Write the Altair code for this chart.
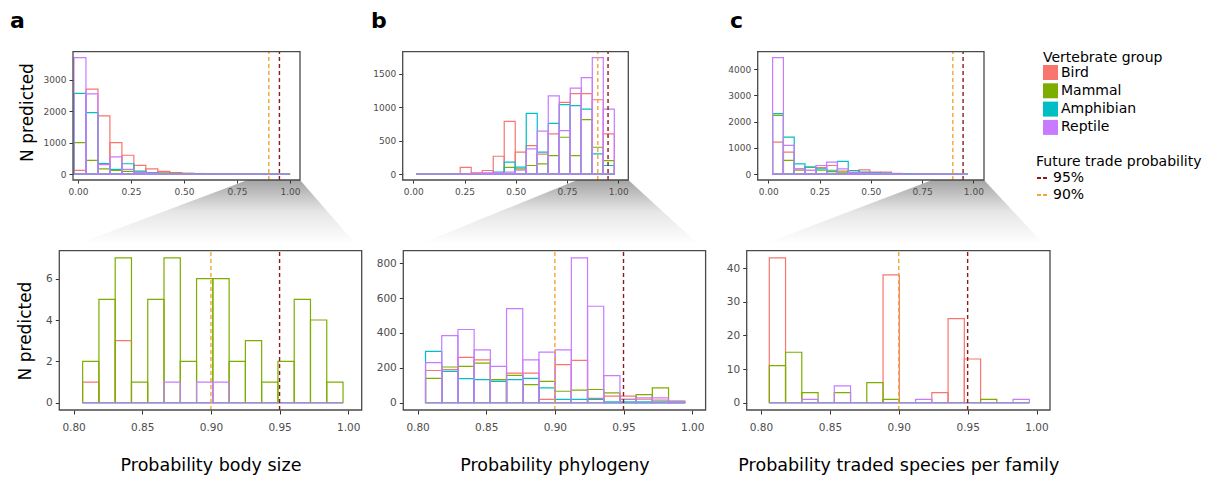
import altair as alt
import pandas as pd

# ---------------- values ----------------
GROUPS = ["Bird", "Mammal", "Amphibian", "Reptile"]
GROUP_COLORS = ["#F8766D", "#7CAE00", "#00BFC4", "#C77CFF"]
THRESHOLD_VALUES = [0.95, 0.90]
THRESHOLD_LABELS = ["95%", "90%"]
THRESHOLD_COLORS = ["#8E1B1B", "#F2A531"]

PANEL_LETTERS = ["a", "b", "c"]
X_TITLES = ["Probability body size", "Probability phylogeny",
            "Probability traded species per family"]
Y_TITLE = "N predicted"

TOP_X_TICKS = [0.0, 0.25, 0.5, 0.75, 1.0]
BOT_X_TICKS = [0.80, 0.85, 0.90, 0.95, 1.00]
A_TOP_Y_TICKS = [0, 1000, 2000, 3000]
B_TOP_Y_TICKS = [0, 500, 1000, 1500]
C_TOP_Y_TICKS = [0, 1000, 2000, 3000, 4000]
A_BOT_Y_TICKS = [0, 2, 4, 6]
B_BOT_Y_TICKS = [0, 200, 400, 600, 800]
C_BOT_Y_TICKS = [0, 10, 20, 30, 40]

# bins: [first bin start, bin width]; counts per bin for each group
A_TOP_BINS = [-0.019, 0.0565]
A_TOP_BIRD = [120, 2700, 1850, 1000, 600, 280, 170, 90, 50, 30, 20, 12, 8, 5, 3, 2, 1, 1]
A_TOP_MAMMAL = [1000, 440, 170, 120, 90, 70, 50, 40, 30, 20, 15, 10, 8, 6, 4, 3, 2, 1]
A_TOP_AMPHIBIAN = [2560, 1950, 334, 150, 330, 100, 40, 20, 10, 5, 3, 2, 1, 1, 0, 0, 0, 0]
A_TOP_REPTILE = [3700, 2550, 300, 550, 150, 60, 30, 15, 8, 5, 3, 2, 2, 1, 1, 1, 0, 0]

B_TOP_BINS = [0.014, 0.0537]
B_TOP_BIRD = [0, 0, 2, 5, 100, 20, 55, 267, 787, 327, 425, 300, 600, 1069, 1200, 1200, 1109, 600]
B_TOP_MAMMAL = [0, 0, 0, 0, 5, 5, 10, 10, 100, 80, 129, 153, 277, 550, 277, 812, 401, 203]
B_TOP_AMPHIBIAN = [0, 0, 0, 0, 2, 5, 10, 30, 178, 104, 906, 327, 757, 1035, 1020, 970, 302, 129]
B_TOP_REPTILE = [0, 0, 0, 2, 5, 10, 20, 20, 30, 60, 376, 640, 1168, 648, 1282, 1440, 1738, 970]

C_TOP_BINS = [0.021, 0.0527]
C_TOP_BIRD = [1223, 840, 204, 150, 250, 331, 120, 80, 165, 76, 76, 30, 20, 10, 5, 5, 3, 2]
C_TOP_MAMMAL = [2240, 522, 150, 268, 150, 100, 80, 40, 60, 40, 30, 15, 10, 5, 3, 2, 1, 1]
C_TOP_AMPHIBIAN = [2306, 1414, 395, 268, 200, 150, 484, 140, 80, 50, 40, 20, 10, 5, 3, 2, 1, 1]
C_TOP_REPTILE = [4446, 1096, 200, 150, 331, 460, 200, 60, 40, 30, 20, 10, 5, 5, 3, 2, 2, 1]

A_BOT_BINS = [0.8066, 0.01185]
A_BOT_BIRD = [1, 0, 3, 0, 0, 0, 0, 0, 0, 0, 0, 0, 0, 0, 0, 0]
A_BOT_MAMMAL = [2, 5, 7, 1, 5, 7, 2, 6, 6, 2, 3, 1, 2, 5, 4, 1]
A_BOT_AMPHIBIAN = [0, 0, 0, 0, 0, 0, 0, 0, 0, 0, 0, 0, 0, 0, 0, 0]
A_BOT_REPTILE = [0, 0, 0, 0, 0, 1, 0, 1, 1, 0, 0, 0, 0, 0, 0, 0]

B_BOT_BINS = [0.8058, 0.0118]
B_BOT_BIRD = [185, 190, 260, 246, 123, 170, 170, 19, 218, 243, 25, 38, 38, 20, 15, 3]
B_BOT_MAMMAL = [140, 205, 208, 227, 133, 157, 104, 123, 66, 72, 76, 57, 19, 47, 85, 10]
B_BOT_AMPHIBIAN = [295, 180, 138, 133, 123, 133, 140, 85, 19, 19, 19, 5, 5, 5, 5, 2]
B_BOT_REPTILE = [230, 385, 420, 303, 208, 540, 246, 290, 303, 830, 553, 155, 20, 28, 28, 8]

C_BOT_BINS = [0.806, 0.0118]
C_BOT_BIRD = [43, 0, 0, 0, 0, 0, 0, 38, 0, 0, 3, 25, 13, 0, 0, 0]
C_BOT_MAMMAL = [11, 15, 3, 0, 3, 0, 6, 1, 0, 0, 0, 0, 0, 1, 0, 0]
C_BOT_AMPHIBIAN = [0, 0, 0, 0, 0, 0, 0, 0, 0, 0, 0, 0, 0, 0, 0, 0]
C_BOT_REPTILE = [0, 0, 1, 0, 5, 0, 0, 0, 0, 1, 0, 0, 0, 0, 0, 1]

# ---------------- layout (pixels inside the chart) ----------------
W, H = 1206, 471
FONT = "DejaVu Sans"
TOP_Y_RANGE = [172.0, 43.7]
BOT_Y_RANGE = [402.0, 242.7]
A_TOP_X = ([-0.0236, 1.047], [65.0, 292.0])
B_TOP_X = ([-0.0517, 1.0488], [394.7, 620.3])
C_TOP_X = ([-0.0517, 1.052], [749.7, 976.0])
BOT_X_DOMAIN = [0.7896, 1.0098]
A_BOT_X = (BOT_X_DOMAIN, [51.3, 353.7])
B_BOT_X = (BOT_X_DOMAIN, [395.3, 697.6])
C_BOT_X = (BOT_X_DOMAIN, [738.7, 1042.0])

AX = dict(domain=False, grid=False, tickColor="#333333", tickWidth=1,
          labelColor="#4D4D4D", labelFont=FONT, titleFont=FONT,
          titleColor="black", titleFontWeight="normal",
          labelFlush=False, labelOverlap=False)

group_scale_stroke = alt.Scale(domain=GROUPS, range=GROUP_COLORS)
group_scale_fill = alt.Scale(domain=GROUPS, range=GROUP_COLORS)
thr_scale = alt.Scale(domain=THRESHOLD_LABELS, range=THRESHOLD_COLORS)


def group_legend():
    return alt.Legend(
        title="Vertebrate group", orient="none", legendX=1035, legendY=43,
        symbolType="square", symbolSize=225, symbolStrokeWidth=0,
        labelFontSize=14, titleFontSize=14, titleFontWeight="normal",
        labelFont=FONT, titleFont=FONT, labelColor="black", titleColor="black",
        rowPadding=3.3, titlePadding=0, labelOffset=3, padding=0, symbolOpacity=1)


def thr_legend():
    return alt.Legend(
        title="Future trade probability", orient="none", legendX=1028, legendY=147,
        symbolType="stroke", symbolSize=144, symbolDash=[4, 2], symbolStrokeWidth=2,
        labelFontSize=14, titleFontSize=14, titleFontWeight="normal",
        labelFont=FONT, titleFont=FONT, labelColor="black", titleColor="black",
        rowPadding=3, titlePadding=2, labelOffset=3, padding=0)


def hist_frame(bins, counts):
    start, width = bins
    rows = []
    for g, cs in zip(GROUPS, counts):
        for i, c in enumerate(cs):
            rows.append({"group": g, "x0": start + i * width,
                         "x1": start + (i + 1) * width, "base": 0, "n": c})
    return pd.DataFrame(rows)


def panel(bins, counts, xspec, top, yticks, xtitle=None, ytitle=None, ytitle_x=0.0, ytitle_y=0.0):
    xdom, xrng = xspec
    yrng = TOP_Y_RANGE if top else BOT_Y_RANGE
    ymax = max(max(c) for c in counts)
    ydom = [-0.05 * ymax, 1.05 * ymax]
    xs = alt.Scale(domain=xdom, range=xrng, nice=False, zero=False)
    ys = alt.Scale(domain=ydom, range=yrng, nice=False, zero=False)

    if top:
        xaxis = alt.Axis(orient="bottom", offset=yrng[0] - H, values=TOP_X_TICKS,
                         format=".2f", title=None, tickSize=3, labelPadding=4,
                         labelFontSize=9, zindex=1, **AX)
        ysize = 9
    else:
        xaxis = alt.Axis(orient="bottom", offset=yrng[0] - H, values=BOT_X_TICKS,
                         format=".2f", title=xtitle, tickSize=4, labelPadding=8,
                         labelFontSize=10.5, titleFontSize=17.5,
                         titleX=(xrng[0] + xrng[1]) / 2, titleY=55,
                         titleBaseline="middle", titleAlign="center", zindex=0, **AX)
        ysize = 10.5
    if ytitle:
        yaxis = alt.Axis(orient="left", offset=-xrng[0], values=yticks, format="d",
                         title=ytitle, tickSize=4, labelPadding=3, labelFontSize=ysize,
                         titleFontSize=17, titleX=ytitle_x, titleY=ytitle_y,
                         titleAngle=270, titleBaseline="middle", titleAlign="center",
                         zindex=0, **AX)
    else:
        yaxis = alt.Axis(orient="left", offset=-xrng[0], values=yticks, format="d",
                         title=None, tickSize=4, labelPadding=3, labelFontSize=ysize,
                         zindex=0, **AX)

    bars = alt.Chart(hist_frame(bins, counts)).mark_rect(filled=False, strokeWidth=1.2).encode(
        x=alt.X("x0:Q", scale=xs),
        x2="x1:Q",
        y=alt.Y("base:Q", scale=ys),
        y2="n:Q",
        stroke=alt.Stroke("group:N", scale=group_scale_stroke, legend=group_legend()),
    )
    rules_df = pd.DataFrame({"t": THRESHOLD_VALUES, "label": THRESHOLD_LABELS,
                             "ry0": [ydom[0]] * 2, "ry1": [ydom[1]] * 2})
    rules = alt.Chart(rules_df).mark_rule(strokeDash=[4, 3], strokeWidth=1.4).encode(
        x=alt.X("t:Q", scale=xs),
        y=alt.Y("ry0:Q", scale=ys),
        y2="ry1:Q",
        color=alt.Color("label:N", scale=thr_scale, legend=thr_legend()),
    )
    frame_df = pd.DataFrame({"fx0": [xdom[0]], "fx1": [xdom[1]],
                             "fy0": [ydom[0]], "fy1": [ydom[1]]})
    frame = alt.Chart(frame_df).mark_rect(filled=False, stroke="#4a4a4a", strokeWidth=1.3).encode(
        x=alt.X("fx0:Q", scale=xs, axis=xaxis),
        x2="fx1:Q",
        y=alt.Y("fy0:Q", scale=ys, axis=yaxis),
        y2="fy1:Q",
    )
    return alt.layer(bars, rules, frame)


def to_px(v, spec):
    dom, rng = spec
    return rng[0] + (v - dom[0]) / (dom[1] - dom[0]) * (rng[1] - rng[0])


# zoom wedges joining the 0.8-1.0 part of each upper axis to the lower panel
wedge_rows = []
for name, tspec, bspec in [("a", A_TOP_X, A_BOT_X), ("b", B_TOP_X, B_BOT_X), ("c", C_TOP_X, C_BOT_X)]:
    wedge_rows.append({"p": name, "wy": TOP_Y_RANGE[0], "wl": to_px(0.80, tspec), "wr": tspec[1][1]})
    wedge_rows.append({"p": name, "wy": BOT_Y_RANGE[1], "wl": bspec[1][0], "wr": bspec[1][1]})
wedges = alt.Chart(pd.DataFrame(wedge_rows)).mark_area(
    orient="horizontal",
    color=alt.LinearGradient(
        gradient="linear",
        stops=[alt.GradientStop(color="#a4a4a4", offset=0),
               alt.GradientStop(color="#e6e6e6", offset=0.45),
               alt.GradientStop(color="#ffffff", offset=0.9)],
        x1=0, x2=0, y1=0, y2=1),
).encode(
    y=alt.Y("wy:Q", scale=alt.Scale(domain=[0, H], range=[0, H], nice=False, zero=False), axis=None),
    x=alt.X("wl:Q", scale=alt.Scale(domain=[0, W], range=[0, W], nice=False, zero=False),
            axis=None, stack=None),
    x2="wr:Q",
    detail="p:N",
)

pa_top = panel(A_TOP_BINS, [A_TOP_BIRD, A_TOP_MAMMAL, A_TOP_AMPHIBIAN, A_TOP_REPTILE],
               A_TOP_X, True, A_TOP_Y_TICKS, ytitle=Y_TITLE, ytitle_x=-46, ytitle_y=104)
pb_top = panel(B_TOP_BINS, [B_TOP_BIRD, B_TOP_MAMMAL, B_TOP_AMPHIBIAN, B_TOP_REPTILE],
               B_TOP_X, True, B_TOP_Y_TICKS)
pc_top = panel(C_TOP_BINS, [C_TOP_BIRD, C_TOP_MAMMAL, C_TOP_AMPHIBIAN, C_TOP_REPTILE],
               C_TOP_X, True, C_TOP_Y_TICKS)
pa_bot = panel(A_BOT_BINS, [A_BOT_BIRD, A_BOT_MAMMAL, A_BOT_AMPHIBIAN, A_BOT_REPTILE],
               A_BOT_X, False, A_BOT_Y_TICKS, xtitle=X_TITLES[0], ytitle=Y_TITLE,
               ytitle_x=-34.3, ytitle_y=322.5)
pb_bot = panel(B_BOT_BINS, [B_BOT_BIRD, B_BOT_MAMMAL, B_BOT_AMPHIBIAN, B_BOT_REPTILE],
               B_BOT_X, False, B_BOT_Y_TICKS, xtitle=X_TITLES[1])
pc_bot = panel(C_BOT_BINS, [C_BOT_BIRD, C_BOT_MAMMAL, C_BOT_AMPHIBIAN, C_BOT_REPTILE],
               C_BOT_X, False, C_BOT_Y_TICKS, xtitle=X_TITLES[2])

# filled key squares for the vertebrate groups (carrier marks are not drawn)
group_key = alt.Chart(pd.DataFrame({"group": GROUPS})).mark_square(size=0, opacity=0).encode(
    fill=alt.Fill("group:N", scale=group_scale_fill, legend=group_legend()),
)

letter_x = [2, 363, 722]
letters = [
    alt.Chart(pd.DataFrame({"k": [0]})).mark_text(
        text=lab, fontSize=22, fontWeight="bold", font=FONT, align="left",
        baseline="alphabetic", color="black",
    ).encode(x=alt.value(lx), y=alt.value(20))
    for lab, lx in zip(PANEL_LETTERS, letter_x)
]

chart = alt.layer(
    wedges, pa_top, pb_top, pc_top, pa_bot, pb_bot, pc_bot, group_key, *letters
).resolve_scale(
    x="independent", y="independent"
).properties(
    width=W, height=H, padding=0,
    autosize=alt.AutoSizeParams(type="none"),
).configure_view(strokeWidth=0)

chart.save("out.html", embed_options={"renderer": "svg", "actions": False})
